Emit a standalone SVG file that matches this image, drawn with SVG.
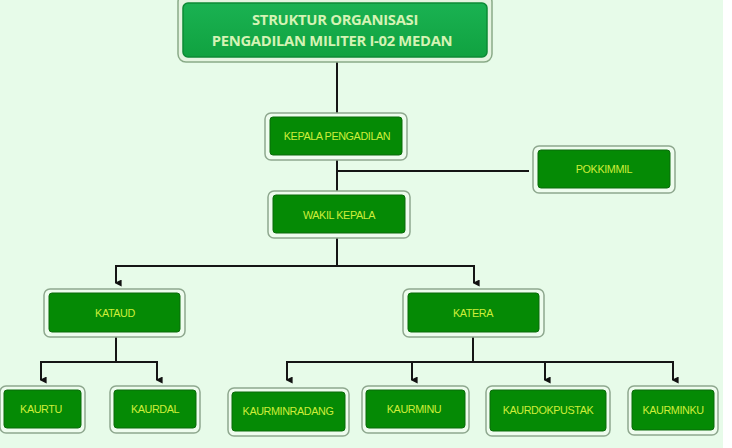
<svg xmlns="http://www.w3.org/2000/svg" width="732" height="448" viewBox="0 0 732 448">
<defs>
<marker id="arr" viewBox="0 0 10 10" refX="5" refY="8" markerWidth="7" markerHeight="7" orient="auto-start-reverse" markerUnits="userSpaceOnUse">
<path d="M0,0 L10,0 L5,10 Z" fill="#111"/>
</marker>
<linearGradient id="tg" x1="0" y1="0" x2="0" y2="1">
<stop offset="0" stop-color="#1ab252"/>
<stop offset="1" stop-color="#10a240"/>
</linearGradient>
<style>
.o{fill:#eefcee;stroke:#8fa88f;stroke-width:1.5}
.i{fill:#058a05;stroke:#0b6a0b;stroke-width:1}
.t{font-family:"Liberation Sans",Arial,sans-serif;font-size:10.8px;fill:#cdee3a;text-anchor:middle;letter-spacing:-0.4px}
.tt{font-family:"Open Sans","Liberation Sans",sans-serif;font-weight:bold;font-size:14.8px;fill:#d4f3b4;text-anchor:middle;letter-spacing:-0.3px}
.c{fill:none;stroke:#151515;stroke-width:2}
</style>
</defs>
<rect x="0" y="0" width="732" height="448" fill="#e7fbe9"/>
<rect x="723" y="0" width="9" height="448" fill="#ffffff"/>

<g id="connectors">
<path class="c" d="M337,62 V113"/>
<path class="c" d="M337,160 V191"/>
<path class="c" d="M337,171 H529"/>
<path class="c" d="M337,238 V266"/>
<path class="c" d="M116,283 V266 H474 V283" marker-start="url(#arr)" marker-end="url(#arr)"/>
<path class="c" d="M116,337 V362"/>
<path class="c" d="M41,380 V362 H157 V380" marker-start="url(#arr)" marker-end="url(#arr)"/>
<path class="c" d="M473,337 V362"/>
<path class="c" d="M287,380 V362 H673 V380" marker-start="url(#arr)" marker-end="url(#arr)"/>
<path class="c" d="M412,362 V380" marker-end="url(#arr)"/>
<path class="c" d="M545,362 V380" marker-end="url(#arr)"/>
</g>

<g id="title">
<rect x="178" y="-6" width="314" height="68" rx="8" fill="#e4f4e0" stroke="#8aaa88" stroke-width="1.5"/>
<rect x="183" y="3" width="304" height="54" rx="5" fill="url(#tg)" stroke="#0c8a34" stroke-width="1.5"/>
<text class="tt" x="335" y="25">STRUKTUR ORGANISASI</text>
<text class="tt" x="332" y="46">PENGADILAN MILITER I-02 MEDAN</text>
</g>

<g id="kepala">
<rect class="o" x="265" y="113" width="142" height="47" rx="6"/>
<rect class="i" x="270" y="117" width="132" height="38" rx="3"/>
<text class="t" x="337" y="140">KEPALA PENGADILAN</text>
</g>

<g id="pokkimmil">
<rect class="o" x="533" y="146" width="142" height="47" rx="6"/>
<rect class="i" x="538" y="150" width="132" height="38" rx="3"/>
<text class="t" x="604" y="173">POKKIMMIL</text>
</g>

<g id="wakil">
<rect class="o" x="268" y="191" width="142" height="47" rx="6"/>
<rect class="i" x="273" y="195" width="132" height="38" rx="3"/>
<text class="t" x="339" y="219">WAKIL KEPALA</text>
</g>

<g id="kataud">
<rect class="o" x="44" y="289" width="141" height="48" rx="6"/>
<rect class="i" x="49" y="293" width="131" height="39" rx="3"/>
<text class="t" x="115" y="317">KATAUD</text>
</g>

<g id="katera">
<rect class="o" x="403" y="289" width="141" height="48" rx="6"/>
<rect class="i" x="408" y="293" width="131" height="39" rx="3"/>
<text class="t" x="473" y="317">KATERA</text>
</g>

<g id="kaurtu">
<rect class="o" x="0" y="386" width="85" height="47" rx="6"/>
<rect class="i" x="4" y="390" width="77" height="38" rx="3"/>
<text class="t" x="41" y="413">KAURTU</text>
</g>

<g id="kaurdal">
<rect class="o" x="110" y="386" width="90" height="47" rx="6"/>
<rect class="i" x="114" y="390" width="82" height="38" rx="3"/>
<text class="t" x="155" y="413">KAURDAL</text>
</g>

<g id="kaurminradang">
<rect class="o" x="228" y="388" width="121" height="48" rx="6"/>
<rect class="i" x="232" y="392" width="113" height="39" rx="3"/>
<text class="t" x="288" y="415">KAURMINRADANG</text>
</g>

<g id="kaurminu">
<rect class="o" x="362" y="386" width="107" height="47" rx="6"/>
<rect class="i" x="366" y="390" width="99" height="38" rx="3"/>
<text class="t" x="414" y="413">KAURMINU</text>
</g>

<g id="kaurdokpustak">
<rect class="o" x="486" y="386" width="124" height="50" rx="6"/>
<rect class="i" x="490" y="390" width="116" height="41" rx="3"/>
<text class="t" x="548" y="414">KAURDOKPUSTAK</text>
</g>

<g id="kaurminku">
<rect class="o" x="628" y="386" width="90" height="49" rx="6"/>
<rect class="i" x="632" y="390" width="82" height="40" rx="3"/>
<text class="t" x="673" y="414">KAURMINKU</text>
</g>
</svg>
